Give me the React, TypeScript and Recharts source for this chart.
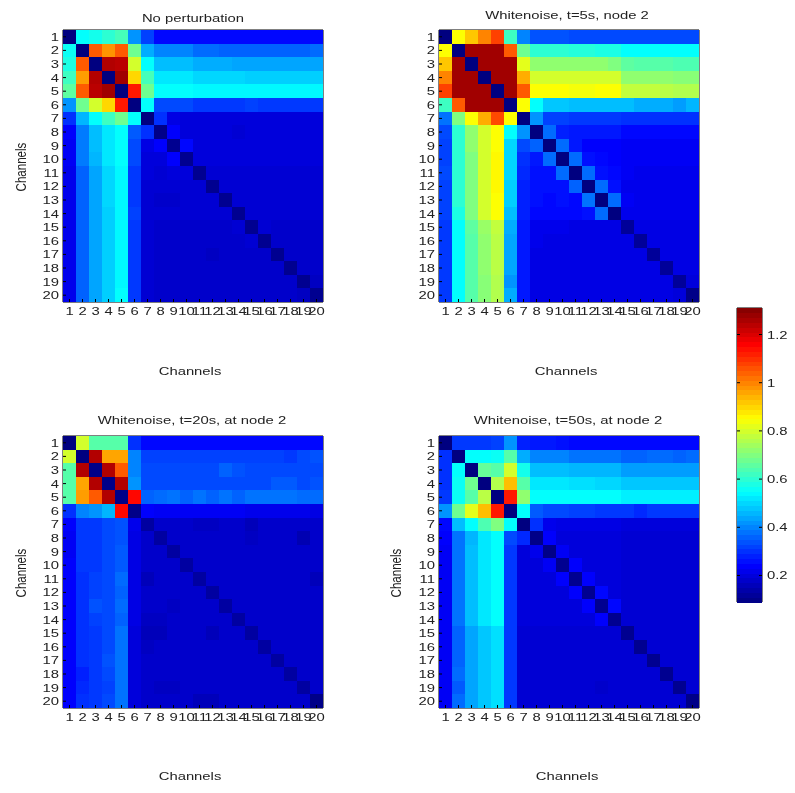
import React from "react";
import { ScatterChart, Scatter, XAxis, YAxis } from "recharts";

const channelTicks = [1, 2, 3, 4, 5, 6, 7, 8, 9, 10, 11, 12, 13, 14, 15, 16, 17, 18, 19, 20];
const colorTicks = [0.2, 0.4, 0.6, 0.8, 1, 1.2];
const colorLevels = [
  0.1, 0.12, 0.14, 0.16, 0.18, 0.2, 0.22, 0.24, 0.26, 0.28, 0.3, 0.32, 0.34, 0.36, 0.38, 0.4, 0.42, 0.44, 0.46, 0.48,
  0.5, 0.52, 0.54, 0.56, 0.58, 0.6, 0.62, 0.64, 0.66, 0.68, 0.7, 0.72, 0.74, 0.76, 0.78, 0.8, 0.82, 0.84, 0.86, 0.88,
  0.9, 0.92, 0.94, 0.96, 0.98, 1, 1.02, 1.04, 1.06, 1.08, 1.1, 1.12, 1.14, 1.16, 1.18, 1.2, 1.22, 1.24, 1.26, 1.28, 1.3,
];

const noPerturbation = [
  [.09, .55, .57, .6, .63, .42, .32, .25, .25, .25, .25, .25, .25, .25, .25, .25, .25, .25, .25, .25],
  [.56, .09, 1.05, .98, 1.05, .68, .45, .4, .4, .4, .37, .37, .36, .36, .36, .36, .36, .36, .36, .37],
  [.58, 1.05, .09, 1.25, 1.24, .8, .55, .47, .47, .47, .45, .45, .45, .44, .44, .44, .44, .44, .44, .44],
  [.62, .97, 1.25, .09, 1.27, .9, .63, .52, .52, .52, .5, .5, .5, .5, .49, .49, .49, .49, .49, .49],
  [.66, 1.05, 1.24, 1.27, .09, 1.13, .68, .55, .55, .55, .54, .54, .54, .54, .54, .54, .54, .54, .54, .54],
  [.42, .68, .8, .9, 1.13, .09, .55, .33, .33, .33, .31, .31, .31, .31, .32, .31, .31, .31, .31, .31],
  [.3, .46, .55, .62, .68, .55, .09, .3, .21, .2, .2, .2, .2, .2, .2, .2, .2, .2, .2, .2],
  [.24, .39, .47, .52, .55, .35, .3, .1, .24, .2, .2, .2, .2, .19, .2, .2, .2, .2, .2, .2],
  [.23, .39, .47, .52, .55, .33, .21, .24, .11, .25, .2, .2, .2, .2, .2, .2, .2, .2, .2, .2],
  [.23, .39, .46, .52, .55, .33, .2, .2, .24, .11, .2, .2, .2, .2, .2, .2, .2, .2, .2, .2],
  [.22, .36, .44, .5, .54, .31, .2, .19, .2, .2, .11, .19, .19, .19, .19, .19, .19, .19, .19, .19],
  [.22, .36, .44, .5, .54, .31, .19, .19, .19, .19, .19, .11, .19, .19, .19, .19, .19, .19, .19, .19],
  [.22, .36, .44, .5, .54, .31, .19, .18, .18, .19, .19, .19, .11, .19, .19, .19, .19, .19, .19, .19],
  [.22, .36, .44, .49, .54, .32, .19, .19, .19, .19, .19, .19, .19, .11, .19, .19, .19, .19, .19, .19],
  [.22, .36, .44, .49, .54, .31, .19, .18, .18, .18, .18, .18, .18, .19, .11, .19, .18, .18, .18, .18],
  [.22, .36, .44, .49, .54, .31, .19, .18, .18, .18, .18, .18, .18, .18, .19, .11, .18, .18, .18, .18],
  [.22, .36, .44, .49, .54, .31, .19, .18, .18, .18, .18, .17, .18, .18, .18, .18, .11, .18, .18, .18],
  [.22, .36, .44, .49, .54, .31, .19, .18, .18, .18, .18, .18, .18, .18, .18, .18, .18, .11, .18, .18],
  [.22, .36, .44, .49, .54, .31, .19, .18, .18, .18, .18, .18, .18, .18, .18, .18, .18, .18, .11, .17],
  [.22, .36, .44, .49, .55, .31, .19, .18, .18, .18, .18, .18, .18, .18, .18, .18, .18, .18, .17, .11],
];

const whitenoise5s = [
  [.09, .85, .92, 1.0, 1.08, .62, .4, .34, .34, .34, .33, .33, .33, .33, .33, .33, .33, .33, .33, .33],
  [.85, .09, 1.27, 1.27, 1.27, 1.05, .68, .6, .6, .6, .59, .59, .58, .58, .55, .55, .55, .55, .55, .55],
  [.92, 1.27, .09, 1.27, 1.27, 1.27, .82, .72, .72, .72, .72, .72, .72, .7, .66, .65, .65, .65, .64, .64],
  [1.0, 1.27, 1.27, .09, 1.27, 1.27, .95, .8, .8, .8, .8, .8, .8, .8, .72, .72, .72, .72, .71, .71],
  [1.08, 1.27, 1.27, 1.27, .09, 1.27, 1.05, .85, .85, .85, .84, .84, .85, .85, .78, .78, .78, .77, .76, .76],
  [.62, 1.05, 1.27, 1.27, 1.27, .09, .85, .55, .48, .48, .47, .47, .47, .47, .47, .45, .45, .45, .43, .46],
  [.38, .7, .85, .95, 1.07, .85, .09, .42, .32, .32, .31, .31, .31, .31, .3, .3, .3, .3, .3, .3],
  [.33, .6, .72, .8, .85, .55, .42, .09, .37, .28, .27, .27, .27, .27, .25, .25, .25, .25, .25, .25],
  [.32, .6, .72, .8, .85, .5, .33, .36, .09, .37, .27, .24, .24, .24, .23, .23, .23, .23, .23, .23],
  [.32, .6, .7, .8, .86, .5, .3, .27, .37, .09, .37, .26, .25, .24, .23, .23, .23, .23, .23, .23],
  [.33, .6, .7, .8, .86, .5, .29, .26, .26, .37, .09, .37, .26, .25, .23, .22, .22, .22, .22, .22],
  [.32, .6, .7, .8, .86, .49, .28, .26, .26, .26, .36, .09, .37, .26, .22, .22, .22, .22, .22, .22],
  [.32, .6, .7, .8, .85, .49, .28, .26, .25, .26, .25, .38, .09, .37, .23, .22, .22, .22, .22, .22],
  [.32, .58, .7, .8, .85, .47, .28, .25, .25, .25, .25, .26, .37, .09, .22, .22, .22, .22, .22, .22],
  [.31, .55, .66, .73, .78, .45, .27, .22, .22, .22, .21, .21, .21, .21, .12, .21, .21, .21, .21, .21],
  [.31, .55, .65, .72, .77, .44, .27, .22, .21, .21, .21, .21, .21, .21, .21, .12, .21, .21, .21, .21],
  [.31, .55, .65, .72, .77, .44, .27, .21, .21, .21, .21, .21, .21, .21, .21, .21, .12, .21, .21, .21],
  [.31, .55, .65, .72, .77, .44, .27, .21, .21, .21, .21, .21, .21, .21, .21, .21, .21, .12, .21, .21],
  [.31, .55, .65, .71, .76, .42, .27, .21, .21, .21, .21, .21, .21, .21, .21, .21, .21, .21, .12, .2],
  [.31, .55, .65, .71, .76, .45, .27, .21, .21, .21, .21, .21, .21, .21, .21, .21, .21, .21, .2, .1],
];

const whitenoise20s = [
  [.09, .8, .65, .65, .65, .3, .25, .25, .25, .25, .25, .25, .25, .25, .25, .25, .25, .25, .25, .25],
  [.8, .09, 1.25, .96, .96, .4, .32, .32, .32, .32, .32, .32, .32, .32, .32, .32, .32, .31, .33, .34],
  [.65, 1.25, .1, 1.25, 1.05, .4, .33, .33, .33, .33, .33, .33, .36, .34, .33, .33, .33, .33, .33, .33],
  [.65, .96, 1.25, .1, 1.25, .42, .33, .33, .33, .33, .33, .33, .33, .33, .33, .33, .35, .35, .33, .34],
  [.65, .97, 1.05, 1.25, .1, 1.15, .36, .37, .38, .36, .38, .36, .38, .36, .38, .38, .38, .38, .37, .37],
  [.3, .4, .42, .46, 1.15, .1, .24, .23, .23, .23, .23, .23, .23, .23, .22, .22, .22, .22, .22, .21],
  [.24, .31, .31, .33, .34, .22, .13, .18, .18, .18, .17, .17, .18, .18, .16, .18, .18, .18, .18, .18],
  [.23, .31, .31, .33, .34, .21, .18, .13, .18, .18, .18, .18, .18, .18, .17, .18, .18, .18, .15, .18],
  [.23, .31, .31, .33, .35, .21, .18, .18, .13, .18, .18, .18, .18, .18, .18, .18, .18, .18, .18, .18],
  [.24, .31, .31, .33, .35, .21, .18, .18, .18, .13, .18, .18, .18, .18, .18, .18, .18, .18, .18, .18],
  [.24, .3, .32, .33, .37, .21, .16, .18, .18, .18, .13, .18, .18, .18, .18, .18, .18, .18, .18, .16],
  [.24, .3, .32, .33, .36, .21, .18, .18, .18, .18, .18, .13, .18, .18, .18, .18, .18, .18, .18, .18],
  [.24, .3, .34, .33, .37, .21, .18, .18, .17, .18, .18, .18, .13, .18, .18, .18, .18, .18, .18, .18],
  [.24, .3, .32, .33, .36, .21, .17, .17, .18, .18, .18, .18, .18, .13, .18, .18, .18, .18, .18, .18],
  [.24, .3, .31, .33, .38, .2, .16, .16, .18, .18, .18, .16, .18, .18, .13, .18, .18, .18, .18, .18],
  [.24, .3, .31, .33, .38, .2, .17, .18, .18, .18, .18, .18, .18, .18, .18, .13, .18, .18, .18, .18],
  [.24, .3, .31, .34, .38, .2, .18, .18, .18, .18, .18, .18, .18, .18, .18, .18, .13, .18, .18, .18],
  [.24, .28, .31, .33, .38, .2, .18, .18, .18, .18, .18, .18, .18, .18, .18, .18, .18, .13, .18, .18],
  [.24, .29, .31, .32, .38, .2, .18, .17, .17, .18, .18, .18, .18, .18, .18, .18, .18, .18, .13, .18],
  [.24, .3, .31, .33, .38, .2, .18, .18, .18, .18, .16, .16, .18, .18, .18, .18, .18, .18, .18, .1],
];

const whitenoise50s = [
  [.09, .31, .31, .31, .32, .42, .28, .27, .27, .26, .25, .25, .25, .25, .25, .25, .25, .25, .25, .25],
  [.3, .09, .55, .55, .56, .65, .45, .4, .4, .4, .38, .38, .38, .38, .36, .36, .37, .37, .36, .37],
  [.3, .55, .09, .67, .65, .8, .57, .47, .47, .47, .46, .46, .46, .46, .43, .43, .43, .43, .43, .43],
  [.3, .56, .68, .09, .76, .93, .65, .52, .52, .52, .51, .51, .5, .5, .48, .48, .48, .48, .48, .48],
  [.31, .56, .65, .77, .09, 1.13, .72, .55, .55, .55, .55, .55, .55, .55, .53, .53, .53, .53, .53, .53],
  [.42, .68, .82, .93, 1.13, .09, .55, .35, .33, .33, .32, .32, .31, .31, .31, .29, .31, .31, .31, .31],
  [.25, .47, .55, .64, .7, .55, .09, .3, .22, .21, .21, .21, .21, .21, .2, .2, .2, .2, .2, .2],
  [.24, .38, .46, .52, .55, .33, .29, .1, .24, .2, .2, .2, .2, .2, .19, .19, .19, .19, .19, .19],
  [.23, .38, .47, .52, .55, .31, .2, .22, .1, .23, .2, .2, .2, .2, .19, .19, .19, .19, .19, .19],
  [.23, .38, .47, .52, .55, .31, .2, .2, .23, .11, .24, .2, .2, .2, .19, .19, .19, .19, .19, .19],
  [.23, .38, .47, .52, .55, .31, .2, .2, .2, .24, .11, .24, .2, .2, .19, .19, .19, .19, .19, .19],
  [.23, .38, .47, .52, .55, .31, .2, .2, .2, .2, .24, .11, .25, .2, .19, .19, .19, .19, .19, .19],
  [.23, .38, .47, .52, .55, .31, .2, .2, .2, .2, .2, .24, .11, .25, .19, .19, .19, .19, .19, .19],
  [.23, .38, .47, .52, .55, .31, .2, .2, .2, .2, .2, .2, .24, .11, .19, .19, .19, .19, .19, .19],
  [.23, .36, .44, .48, .51, .31, .19, .19, .19, .19, .19, .19, .19, .19, .11, .19, .19, .19, .19, .19],
  [.23, .36, .44, .48, .51, .31, .19, .19, .19, .19, .19, .19, .19, .19, .19, .11, .19, .19, .19, .19],
  [.23, .36, .44, .48, .51, .31, .19, .19, .19, .19, .19, .19, .19, .19, .19, .19, .11, .19, .19, .19],
  [.23, .37, .44, .48, .51, .31, .19, .19, .19, .19, .19, .19, .19, .19, .19, .19, .19, .11, .19, .19],
  [.23, .35, .44, .48, .51, .31, .19, .19, .19, .19, .19, .19, .18, .19, .19, .19, .19, .19, .11, .19],
  [.23, .37, .44, .48, .51, .31, .19, .19, .19, .19, .19, .19, .19, .19, .19, .19, .19, .19, .19, .1],
];

const FONT = "'Liberation Sans', Arial, sans-serif";
const TEXT = "#222";
const V_MIN = 0.09;
const V_MAX = 1.31;

function jet(v: number): string {
  const t = Math.max(0, Math.min(1, (v - V_MIN) / (V_MAX - V_MIN)));
  const ch = (c: number) => Math.round(255 * Math.max(0, Math.min(1, 1.5 - Math.abs(4 * t - c))));
  return `rgb(${ch(3)},${ch(2)},${ch(1)})`;
}

function Stretched({ x, y, anchor = "middle", sx = 1.35, sy = 1, rotate = 0, children }: any) {
  return (
    <text
      transform={`translate(${x},${y}) rotate(${rotate}) scale(${sx},${sy})`}
      textAnchor={anchor}
      fontFamily={FONT}
      fontSize={11}
      fill={TEXT}
    >
      {children}
    </text>
  );
}

const BottomTick = ({ x, y, payload }: any) => (
  <g>
    <line x1={x} x2={x} y1={y} y2={y - 3} stroke="#000" />
    <Stretched x={x} y={y + 13}>{payload.value}</Stretched>
  </g>
);
const LeftTick = ({ x, y, payload }: any) => (
  <g>
    <line x1={x} x2={x + 3} y1={y} y2={y} stroke="#000" />
    <Stretched x={x - 4} y={y + 4} anchor="end">{payload.value}</Stretched>
  </g>
);
const TopTick = ({ x, y }: any) => <line x1={x} x2={x} y1={y} y2={y + 3} stroke="#000" />;
const RightTick = ({ x, y }: any) => <line x1={x} x2={x - 3} y1={y} y2={y} stroke="#000" />;
const ColorTick = ({ x, y, payload }: any) => (
  <g>
    <line x1={x} x2={x - 3} y1={y} y2={y} stroke="#000" />
    <line x1={x - 25} x2={x - 22} y1={y} y2={y} stroke="#000" />
    <Stretched x={x + 5} y={y + 4} anchor="start">{payload.value}</Stretched>
  </g>
);

const PLOT_W = 260;
const PLOT_H = 272;
const CELL_W = PLOT_W / channelTicks.length;
const CELL_H = PLOT_H / channelTicks.length;

const HeatCell = ({ cx, cy, payload }: any) => (
  <rect
    x={cx - CELL_W / 2}
    y={cy - CELL_H / 2}
    width={CELL_W}
    height={CELL_H}
    fill={jet(payload.v)}
    shapeRendering="crispEdges"
  />
);

const BAR_H = 294;
const LevelCell = ({ cx, cy, payload }: any) => (
  <rect
    x={cx - 12.5}
    y={cy - BAR_H / colorLevels.length / 2 - 0.5}
    width={25}
    height={BAR_H / colorLevels.length + 1}
    fill={jet(payload.v)}
    shapeRendering="crispEdges"
  />
);

function toCells(matrix: number[][]) {
  return matrix.flatMap((row, r) => row.map((v, c) => ({ x: c + 1, y: r + 1, v })));
}

const DOMAIN: [number, number] = [0.5, 20.5];
const AXIS_LINE = { stroke: "#000" };

function Panel({ matrix, title, left, top, titleX, titleY, labelX, labelY, yLabelX, yLabelY }: any) {
  const boxW = 380;
  const boxH = 382;
  const ml = 50;
  const mt = 25;
  return (
    <div style={{ position: "absolute", left: left - ml, top: top - mt }}>
      <ScatterChart
        width={boxW}
        height={boxH}
        margin={{ left: ml - 30, top: mt - 1, right: boxW - ml - PLOT_W - 1, bottom: boxH - mt - PLOT_H - 30 }}
      >
        <Scatter xAxisId="b" yAxisId="l" data={toCells(matrix)} shape={HeatCell} isAnimationActive={false} />
        <XAxis xAxisId="b" dataKey="x" type="number" domain={DOMAIN} ticks={channelTicks} interval={0} height={30}
          tick={BottomTick} tickLine={false} tickSize={0} tickMargin={0} axisLine={AXIS_LINE} />
        <XAxis xAxisId="t" orientation="top" type="number" domain={DOMAIN} ticks={channelTicks} interval={0} height={1}
          tick={TopTick} tickLine={false} tickSize={0} tickMargin={0} axisLine={AXIS_LINE} />
        <YAxis yAxisId="l" dataKey="y" type="number" reversed domain={DOMAIN} ticks={channelTicks} interval={0} width={30}
          tick={LeftTick} tickLine={false} tickSize={0} tickMargin={0} axisLine={AXIS_LINE} />
        <YAxis yAxisId="r" orientation="right" type="number" reversed domain={DOMAIN} ticks={channelTicks} interval={0} width={1}
          tick={RightTick} tickLine={false} tickSize={0} tickMargin={0} axisLine={AXIS_LINE} />
        <Stretched x={titleX - left + ml} y={titleY - top + mt}>{title}</Stretched>
        <Stretched x={labelX - left + ml} y={labelY - top + mt}>Channels</Stretched>
        {yLabelX != null && (
          <Stretched x={yLabelX - left + ml} y={yLabelY - top + mt} rotate={-90} sx={1.05} sy={1.3}>
            Channels
          </Stretched>
        )}
      </ScatterChart>
    </div>
  );
}

function ColorBar() {
  const left = 737;
  const top = 308;
  const ml = 5;
  const mt = 5;
  return (
    <div style={{ position: "absolute", left: left - ml, top: top - mt }}>
      <ScatterChart width={58} height={BAR_H + 10} margin={{ left: ml - 1, top: mt - 1, right: 27, bottom: mt - 1 }}>
        <Scatter xAxisId="b" yAxisId="r" data={colorLevels.map((v) => ({ x: 0.5, y: v, v }))} shape={LevelCell} isAnimationActive={false} />
        <XAxis xAxisId="b" dataKey="x" type="number" domain={[0, 1]} height={1} tick={false} tickLine={false} axisLine={AXIS_LINE} />
        <XAxis xAxisId="t" orientation="top" type="number" domain={[0, 1]} height={1} tick={false} tickLine={false} axisLine={AXIS_LINE} />
        <YAxis yAxisId="l" type="number" domain={[V_MIN, V_MAX]} width={1} tick={false} tickLine={false} axisLine={AXIS_LINE} />
        <YAxis yAxisId="r" dataKey="y" orientation="right" type="number" domain={[V_MIN, V_MAX]} ticks={colorTicks} interval={0} width={1}
          tick={ColorTick} tickLine={false} tickSize={0} tickMargin={0} axisLine={AXIS_LINE} />
      </ScatterChart>
    </div>
  );
}

export default function App() {
  return (
    <div style={{ position: "absolute", left: 0, top: 0, width: 795, height: 793, background: "#fff", overflow: "hidden", filter: "blur(0.5px)" }}>
      <Panel matrix={noPerturbation} title="No perturbation" left={63} top={30} titleX={193} titleY={22} labelX={190} labelY={375} yLabelX={26} yLabelY={167} />
      <Panel matrix={whitenoise5s} title="Whitenoise, t=5s, node 2" left={439} top={30} titleX={567} titleY={19} labelX={566} labelY={375} />
      <Panel matrix={whitenoise20s} title="Whitenoise, t=20s, at node 2" left={63} top={436} titleX={192} titleY={424} labelX={190} labelY={780} yLabelX={26} yLabelY={573} />
      <Panel matrix={whitenoise50s} title="Whitenoise, t=50s, at node 2" left={439} top={436} titleX={568} titleY={424} labelX={567} labelY={780} yLabelX={401} yLabelY={573} />
      <ColorBar />
    </div>
  );
}
